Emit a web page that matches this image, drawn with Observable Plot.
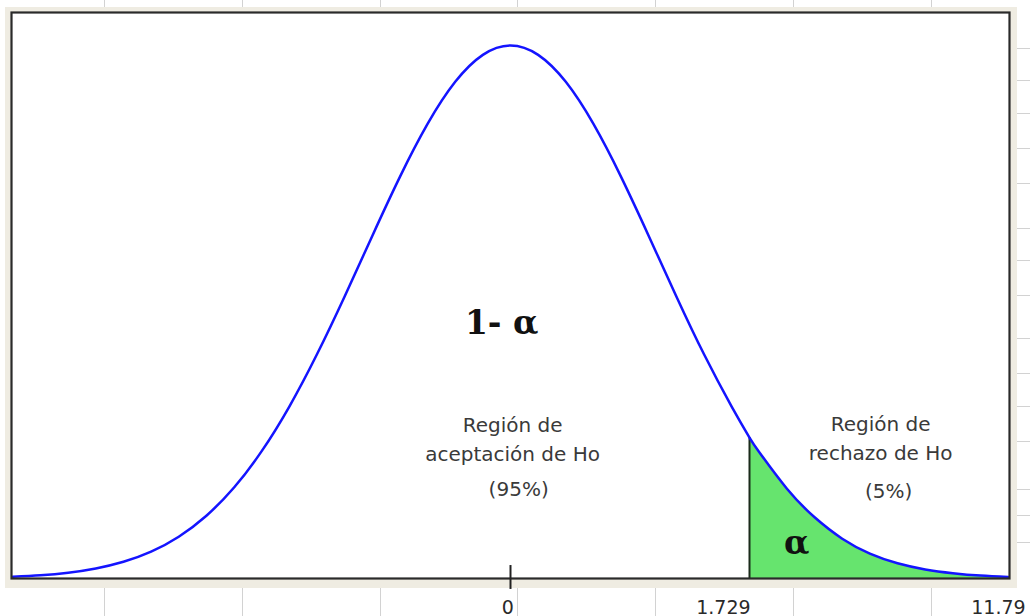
<!DOCTYPE html>
<html><head><meta charset="utf-8">
<script src="https://cdn.jsdelivr.net/npm/d3@7"></script>
<script src="https://cdn.jsdelivr.net/npm/@observablehq/plot@0.6"></script>
<style>
body{margin:0;background:#fff;}
#wrap{position:relative;width:1030px;height:616px;overflow:hidden;background:#fff;}
#bg{position:absolute;left:5px;top:7px;width:1012px;height:581px;background:#efece2;}
.vg{position:absolute;width:1px;background:#d2d2d2;}
.hg{position:absolute;height:1px;background:#d2d2d2;left:1017px;width:13px;}
#chart{position:absolute;left:0;top:0;}
</style></head><body>
<div id="wrap"><div id="bg"></div><div id="chart"></div></div>
<script>
// ---- data (smoothed readings) ----
const curveZ = [-3.6,-3.4,-3.2,-3.0,-2.8,-2.6,-2.4,-2.2,-2.0,-1.8,-1.6,-1.4,-1.2,-1.0,-0.8,-0.6,-0.4,-0.2,0.0,0.2,0.4,0.6,0.8,1.0,1.2,1.4,1.6,1.729,1.8,2.0,2.2,2.4,2.6,2.8,3.0,3.2,3.4,3.6];
const curveDensity = [0.0013,0.0024,0.0043,0.0075,0.0125,0.0201,0.0313,0.0470,0.0681,0.0953,0.1287,0.1678,0.2111,0.2564,0.3006,0.3402,0.3717,0.3919,0.3989,0.3919,0.3717,0.3402,0.3006,0.2564,0.2111,0.1678,0.1287,0.1055,0.0945,0.0672,0.0458,0.0298,0.0186,0.0114,0.0068,0.0040,0.0022,0.0012];
const critValue = 1.729;
const tickValues = [0];
const tickLabels = ["0", "1.729", "11.79"];
const tickLabelZ = [-0.02, 1.54, 3.53];
const annotText = ["Región de", "aceptación de Ho", "(95%)", "Región de", "rechazo de Ho", "(5%)"];
const annotZ = [0.015, 0.015, 0.059, 2.678, 2.678, 2.736];
const annotDensity = [0.1100, 0.0883, 0.0621, 0.1107, 0.0890, 0.0606];
const symbolText = ["1- α", "α"];
const symbolZ = [-0.064, 2.07];
const symbolDensity = [0.1833, 0.0187];

// ---- decoration: spreadsheet cell grid behind the chart ----
const wrap = document.getElementById("wrap");
[104, 242, 380, 517, 655, 793, 931].forEach(x => {
  for (const [top, h] of [[0, 7], [588, 28]]) {
    const d = document.createElement("div");
    d.className = "vg"; d.style.left = x + "px"; d.style.top = top + "px"; d.style.height = h + "px";
    wrap.appendChild(d);
  }
});
[48, 80, 113, 148, 183, 228, 260, 295, 338, 373, 406, 441, 489, 515, 542].forEach(y => {
  const d = document.createElement("div");
  d.className = "hg"; d.style.top = y + "px";
  wrap.appendChild(d);
});

// ---- chart ----
const curve = curveZ.map((z, i) => ({z, d: curveDensity[i]}));
const tail = curve.filter(p => p.z >= critValue);
const annots = annotText.map((t, i) => ({t, z: annotZ[i], d: annotDensity[i]}));
const symbols = symbolText.map((t, i) => ({t, z: symbolZ[i], d: symbolDensity[i]}));
const labels = tickLabels.map((t, i) => ({t, z: tickLabelZ[i]}));

const chart = Plot.plot({
  width: 1030, height: 616,
  marginLeft: 11, marginRight: 21, marginTop: 12, marginBottom: 38,
  x: {domain: [-3.61, 3.61], axis: null},
  y: {domain: [0, 0.4236], axis: null},
  style: {background: "transparent", overflow: "visible"},
  marks: [
    Plot.frame({fill: "white", stroke: "none"}),
    Plot.areaY(tail, {x: "z", y: "d", fill: "#66e46e", curve: "natural"}),
    Plot.ruleX([critValue], {y1: 0, y2: tail[0].d, stroke: "#1b2b1b", strokeWidth: 2}),
    Plot.line(curve, {x: "z", y: "d", stroke: "#1414ff", strokeWidth: 2.5, curve: "natural"}),
    Plot.frame({stroke: "#2a2a2a", strokeWidth: 2.2}),
    Plot.ruleX(tickValues, {y1: -0.0082, y2: 0.0097, stroke: "#222", strokeWidth: 2}),
    Plot.text(labels, {x: "z", text: "t", frameAnchor: "bottom", dy: 35, lineAnchor: "bottom",
      fontFamily: "DejaVu Sans", fontSize: 19, fill: "#2a2a2a"}),
    Plot.text(annots, {x: "z", y: "d", text: "t", lineAnchor: "bottom",
      fontFamily: "DejaVu Sans", fontSize: 20, fill: "#3a3a3a"}),
    Plot.text(symbols, {x: "z", y: "d", text: "t", lineAnchor: "bottom",
      fontFamily: "DejaVu Serif", fontWeight: "bold", fontSize: 33, fill: "#111"})
  ]
});
document.getElementById("chart").appendChild(chart);
</script>
</body></html>
